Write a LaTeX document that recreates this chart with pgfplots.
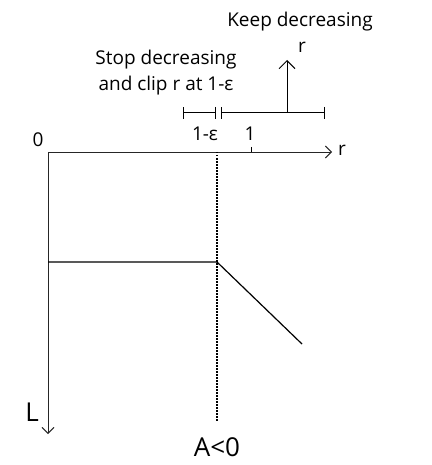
\documentclass[border=0pt]{standalone}
\usepackage{pgfplots}
\pgfplotsset{compat=1.18}
\usepackage{fontspec}
\setmainfont{Open Sans}
\usetikzlibrary{arrows.meta}
\tikzset{lbl/.style={font=\fontsize{19}{22}\selectfont, inner sep=0pt},
         big/.style={font=\fontsize{26}{30}\selectfont, inner sep=0pt}}
\begin{document}
\begin{tikzpicture}
\begin{axis}[
  width=431pt, height=465pt, scale only axis,
  xmin=0, xmax=431, ymin=0, ymax=465, y dir=reverse,
  axis lines=none, clip=false,
]
% frame to fix bounding box
\addplot[draw=none] coordinates {(0,0) (431,465)};
% axes
\addplot[black!85, line width=0.9pt, -{Straight Barb[length=6pt,width=12pt,line width=0.9pt]}] coordinates {(48,152) (332,152)};
\addplot[black!85, line width=0.9pt, -{Straight Barb[length=6pt,width=12pt,line width=0.9pt]}] coordinates {(48,152) (48,434)};
% vertical dotted line at 1-eps
\addplot[black, line width=1.3pt, dash pattern=on 1.5pt off 1.5pt] coordinates {(217,152) (217,421)};
% tick at 1
\addplot[black, line width=0.8pt] coordinates {(251,147) (251,152)};
% loss curve
\addplot[black, line width=1.2pt] coordinates {(48,262) (217,262) (302,344)};
% brackets
\addplot[black, line width=1pt, {Bar[width=12pt]}-{Bar[width=12pt]}] coordinates {(183,113) (216,113)};
\addplot[black, line width=1pt, {Bar[width=12pt]}-{Bar[width=12pt]}] coordinates {(221,113) (325,113)};
% up arrow
\addplot[black, line width=1pt, -{Straight Barb[length=8pt,width=16pt,line width=1pt]}] coordinates {(287,113) (287,60)};
% labels
\node[lbl] at (axis cs:300,22) {Keep decreasing};
\node[lbl] at (axis cs:302,47) {r};
\node[lbl] at (axis cs:166,60) {Stop decreasing};
\node[lbl] at (axis cs:166,86) {and clip r at 1-ε};
\node[lbl] at (axis cs:205,134) {1-ε};
\node[lbl] at (axis cs:250,134) {1};
\node[lbl] at (axis cs:38,140) {0};
\node[lbl] at (axis cs:342,150) {r};
\node[big] at (axis cs:32,412) {L};
\node[big] at (axis cs:217,447) {A<0};
\end{axis}
\end{tikzpicture}
\end{document}
